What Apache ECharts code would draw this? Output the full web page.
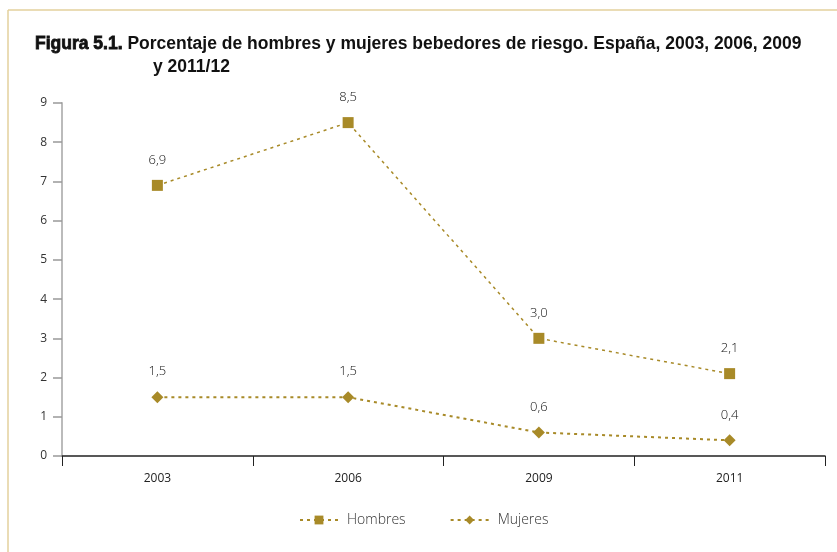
<!DOCTYPE html>
<html>
<head>
<meta charset="utf-8">
<script src="https://cdn.jsdelivr.net/npm/echarts@6/dist/echarts.min.js"></script>
<style>
  html, body { margin: 0; padding: 0; background: #fff; }
  #chart { width: 837px; height: 552px; }
</style>
</head>
<body>
<div id="chart"></div>
<script>
// Survey years on the category axis
const years = ['2003', '2006', '2009', '2011'];
// Percentage of risk drinkers by sex
const hombres = [6.9, 8.5, 3.0, 2.1];
const mujeres = [1.5, 1.5, 0.6, 0.4];
// Y-axis ticks
const yTicks = [0, 1, 2, 3, 4, 5, 6, 7, 8, 9];

const gold = '#A88A28';
const fmt = v => v.toFixed(1).replace('.', ',');

const chart = echarts.init(document.getElementById('chart'), null, { renderer: 'canvas' });

const labelStyle = {
  show: true,
  position: 'top',
  distance: 13,
  color: '#111',
  fontFamily: 'Open Sans',
  fontSize: 13,
  fontWeight: 300,
  formatter: p => fmt(p.value)
};

const titleFont = { fontFamily: 'Liberation Sans', fontSize: 17.5, fontWeight: 'bold', color: '#111' };

chart.setOption({
  backgroundColor: '#fff',
  animation: false,
  title: [
    {
      left: 30, top: 30,
      text: '{b|Figura 5.1.} {n|Porcentaje de hombres y mujeres bebedores de riesgo. España, 2003, 2006, 2009}',
      textStyle: {
        ...titleFont,
        rich: {
          b: { ...titleFont, textBorderColor: '#111', textBorderWidth: 0.8 },
          n: { ...titleFont }
        }
      }
    },
    {
      left: 148, top: 53,
      text: 'y 2011/12',
      textStyle: { ...titleFont }
    }
  ],
  grid: { left: 62, right: 12, top: 103, bottom: 96, containLabel: false },
  xAxis: {
    type: 'category',
    data: years,
    boundaryGap: true,
    axisLine: { show: true, lineStyle: { color: '#222', width: 1.5 } },
    axisTick: { show: true, length: 10, lineStyle: { color: '#222', width: 1 } },
    axisLabel: { color: '#222', fontFamily: 'Open Sans', fontSize: 12, margin: 17 }
  },
  yAxis: {
    type: 'value',
    min: yTicks[0],
    max: yTicks[yTicks.length - 1],
    interval: 1,
    axisLine: { show: true, lineStyle: { color: '#bbb', width: 2 } },
    axisTick: { show: true, length: 9, lineStyle: { color: '#999', width: 1.5 } },
    axisLabel: { color: '#333', fontFamily: 'Open Sans', fontSize: 12, margin: 15 },
    splitLine: { show: false }
  },
  legend: {
    bottom: 20,
    left: 294,
    itemGap: 44,
    itemWidth: 38,
    itemHeight: 11,
    textStyle: { color: '#333', fontFamily: 'Open Sans', fontSize: 14, fontWeight: 300, padding: [0, 0, 0, 4] },
    data: ['Hombres', 'Mujeres']
  },
  series: [
    {
      name: 'Hombres',
      type: 'line',
      data: hombres,
      symbol: 'rect',
      symbolSize: 11,
      itemStyle: { color: gold },
      lineStyle: { color: gold, width: 1.5, type: [3, 4] },
      label: labelStyle
    },
    {
      name: 'Mujeres',
      type: 'line',
      data: mujeres,
      symbol: 'diamond',
      symbolSize: 12,
      itemStyle: { color: gold },
      lineStyle: { color: gold, width: 2, type: [3, 4] },
      label: labelStyle
    }
  ],
  graphic: [
    // frame lines along the top and left edges
    { type: 'line', shape: { x1: 8, y1: 10, x2: 837, y2: 10 }, style: { stroke: '#E3D09C', lineWidth: 1.5 } },
    { type: 'line', shape: { x1: 8, y1: 10, x2: 8, y2: 552 }, style: { stroke: '#E3D09C', lineWidth: 1.5 } }
  ]
});
</script>
</body>
</html>
